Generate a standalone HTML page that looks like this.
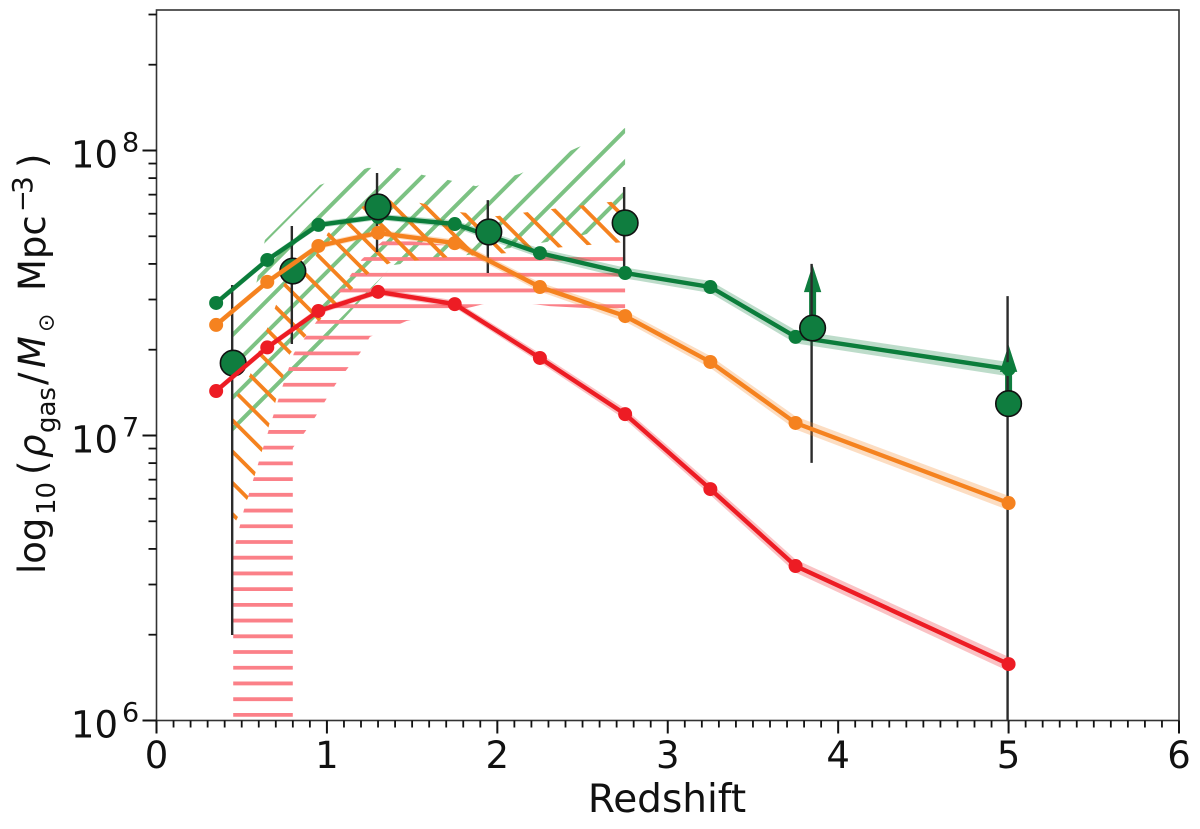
<!DOCTYPE html>
<html lang="en">
<head>
<meta charset="utf-8">
<title>Gas density vs redshift</title>
<style>
html,body{margin:0;padding:0;background:#fff;width:1200px;height:829px;overflow:hidden}
svg{display:block;overflow:hidden}
text{font-family:"DejaVu Sans","Liberation Sans",sans-serif;fill:#111}
</style>
</head>
<body>
<svg id="chart" xmlns="http://www.w3.org/2000/svg" width="1200" height="829" viewBox="0 0 1200 829">
  <defs id="defs"></defs>
  <g id="hatches"></g>
  <g id="arrows"></g>
  <g id="errors"></g>
  <g id="series-green"></g>
  <g id="bigpoints"></g>
  <g id="series-orange"></g>
  <g id="series-red"></g>
  <g id="axes"></g>
  <text x="667" y="812" font-size="39" text-anchor="middle">Redshift</text>
  <g transform="translate(45,574) rotate(-90)" font-size="37">
    <text x="0" y="0">log</text>
    <text x="59" y="10" font-size="26">10</text>
    <text x="99" y="0">(</text>
    <text x="116" y="0" font-style="italic">ρ</text>
    <text x="141" y="10" font-size="26">gas</text>
    <text x="189" y="0">/</text>
    <text x="206" y="0" font-style="italic">M</text>
    <text x="242" y="8.5" font-size="22">⊙</text>
    <text x="283" y="0">Mpc</text>
    <text x="362" y="-14" font-size="26">−</text>
    <text x="380" y="-13" font-size="28">3</text>
    <text x="406" y="0">)</text>
  </g>
</svg>
<script>
// Model redshift bins
const redshifts = [0.35, 0.65, 0.95, 1.3, 1.75, 2.25, 2.75, 3.25, 3.75, 5];
// log10 gas density per series
const greenLog = [7.465, 7.616, 7.739, 7.767, 7.742, 7.640, 7.570, 7.521, 7.346, 7.233];
const orangeLog = [7.388, 7.539, 7.665, 7.711, 7.675, 7.521, 7.419, 7.258, 7.044, 6.763];
const redLog = [7.156, 7.309, 7.437, 7.504, 7.461, 7.272, 7.075, 6.812, 6.542, 6.198];
// Half-width of the shaded band (dex)
const bandHalf = [0.011, 0.011, 0.011, 0.011, 0.013, 0.016, 0.019, 0.021, 0.023, 0.025];
// Observed points
const obsZ = [0.45, 0.8, 1.3, 1.95, 2.75, 3.85, 5];
const obsLog = [7.254, 7.577, 7.802, 7.714, 7.746, 7.377, 7.112];
const obsErrHigh = [7.528, 7.735, 7.921, 7.826, 7.872, 7.602, 7.489];
const obsErrLow = [6.300, 7.321, 7.644, 7.570, 7.570, 6.904, 5.99];
// Lower-limit arrows
const limitZ = [3.85, 5];
const limitFrom = [7.377, 7.112];
const limitTip = [7.598, 7.318];
// Hatched region bounds
const greenUpperZ = [0.45, 0.578, 0.636, 0.959, 1.240, 1.416, 1.563, 1.716, 1.874, 2.132, 2.466, 2.75];
const greenUpperLog = [7.398, 7.511, 7.686, 7.879, 7.939, 7.939, 7.914, 7.896, 7.875, 7.918, 8.009, 8.079];
const greenLowerZ = [0.45, 1.387, 1.604, 1.821, 2.249, 2.466, 2.75];
const greenLowerLog = [6.984, 7.598, 7.616, 7.633, 7.675, 7.696, 7.749];
const orangeUpperZ = [0.45, 0.548, 0.648, 0.748, 0.883, 1.006, 1.123, 1.211, 1.369, 1.545, 1.780, 1.997, 2.326, 2.75];
const orangeUpperLog = [7.118, 7.212, 7.374, 7.532, 7.574, 7.711, 7.746, 7.805, 7.826, 7.816, 7.784, 7.770, 7.795, 7.826];
const orangeLowerZ = [0.45, 0.537, 0.619, 0.701, 0.783, 0.871, 0.959, 1.147, 1.240, 1.369, 1.716, 2.056, 2.384, 2.75];
const orangeLowerLog = [6.682, 6.781, 6.946, 7.125, 7.286, 7.346, 7.405, 7.514, 7.567, 7.605, 7.626, 7.640, 7.661, 7.679];
const redUpperZ = [0.45, 0.513, 0.625, 0.742, 0.806, 0.941, 1.076, 1.205, 1.328, 1.493, 1.950, 2.75];
const redUpperLog = [6.591, 6.739, 6.956, 7.177, 7.289, 7.402, 7.511, 7.619, 7.682, 7.682, 7.651, 7.633];
const redLowerZ = [0.45, 0.8, 0.8, 0.871, 0.935, 0.994, 1.053, 1.123, 1.194, 1.252, 1.469, 1.850, 2.015, 2.308, 2.75];
const redLowerLog = [5.98, 5.98, 6.956, 7.012, 7.068, 7.125, 7.181, 7.237, 7.289, 7.346, 7.402, 7.451, 7.475, 7.454, 7.440];
// Ticks
const xMajorTicks = [0, 1, 2, 3, 4, 5, 6];
const yMajorTicks = [6, 7, 8];
const yMinorMultipliers = [2, 3, 4, 5, 6, 7, 8, 9];

const NS = 'http://www.w3.org/2000/svg';
const plot = {left: 156.5, right: 1179, top: 10, bottom: 720.5};
const xPerUnit = (plot.right - plot.left) / 6;
const yPerDecade = 285;
function X(z) { return plot.left + z * xPerUnit; }
function Y(l) { return plot.bottom - (l - 6) * yPerDecade; }
function make(tag, attrs, parent) {
  const el = document.createElementNS(NS, tag);
  for (const k in attrs) el.setAttribute(k, attrs[k]);
  parent.appendChild(el);
  return el;
}
const defs = document.getElementById('defs');

// plot-area clip
const plotClip = make('clipPath', {id: 'plot-clip'}, defs);
make('rect', {x: plot.left, y: plot.top, width: plot.right - plot.left, height: plot.bottom - plot.top}, plotClip);

function regionPoints(upZ, upL, loZ, loL) {
  const pts = [];
  for (let i = 0; i < upZ.length; i++) pts.push(X(upZ[i]).toFixed(1) + ',' + Y(upL[i]).toFixed(1));
  for (let i = loZ.length - 1; i >= 0; i--) pts.push(X(loZ[i]).toFixed(1) + ',' + Y(loL[i]).toFixed(1));
  return pts.join(' ');
}
function hatchGroup(id, upZ, upL, loZ, loL, color, width) {
  const cp = make('clipPath', {id: id + '-clip'}, defs);
  make('polygon', {points: regionPoints(upZ, upL, loZ, loL)}, cp);
  const outer = make('g', {'clip-path': 'url(#plot-clip)'}, document.getElementById('hatches'));
  const g = make('g', {'clip-path': 'url(#' + id + '-clip)', stroke: color, 'stroke-width': width, fill: 'none'}, outer);
  return g;
}
const hatchTop = 100;
const hatchBottom = 720;
const hatchG = hatchGroup('green-hatch', greenUpperZ, greenUpperLog, greenLowerZ, greenLowerLog, '#7cc283', 4);


for (let k = -6; k < 12; k++) {
  const c = 505 + 31.3 * k;
  make('line', {x1: c - hatchBottom, y1: hatchBottom, x2: c - hatchTop, y2: hatchTop}, hatchG);
}
const hatchR = hatchGroup('red-hatch', redUpperZ, redUpperLog, redLowerZ, redLowerLog, '#fb8088', 3.8);


for (let k = 0; k <= 30; k++) {
  const yy = 243.3 + 15.72 * k;
  make('line', {x1: 200, y1: yy, x2: 700, y2: yy}, hatchR);
}
const hatchO = hatchGroup('orange-hatch', orangeUpperZ, orangeUpperLog, orangeLowerZ, orangeLowerLog, '#f5821f', 3.8);


for (let k = -14; k < 16; k++) {
  const c = 31.3 * k;
  make('line', {x1: hatchTop + c, y1: hatchTop, x2: hatchBottom + c, y2: hatchBottom}, hatchO);
}

// arrows
const arrowsG = document.getElementById('arrows');
limitZ.forEach(function (z, i) {
  const x = X(z), from = Y(limitFrom[i]), tip = Y(limitTip[i]);
  const shaft = make('line', {x1: x, y1: from, x2: x, y2: tip + 22, stroke: '#0f7d3f', 'stroke-width': 7}, arrowsG);
  
  
  const head = make('polygon', {points: (x) + ',' + tip + ' ' + (x - 8.7) + ',' + (tip + 27) + ' ' + (x + 8.7) + ',' + (tip + 27), fill: '#0f7d3f'}, arrowsG);
  
  
});

// error bars
const errorsG = document.getElementById('errors');
obsZ.forEach(function (z, i) {
  const bar = make('line', {x1: X(z) - 1, y1: Y(obsErrHigh[i]), x2: X(z) - 1, y2: Math.min(Y(obsErrLow[i]), plot.bottom), stroke: '#2b2b2b', 'stroke-width': 2.4}, errorsG);
  
  
});

// model series
function drawSeries(groupId, values, color, markerName) {
  const g = document.getElementById(groupId);
  const top = [], bottom = [], mid = [];
  redshifts.forEach(function (z, i) {
    top.push(X(z).toFixed(1) + ',' + Y(values[i] + bandHalf[i]).toFixed(1));
    bottom.unshift(X(z).toFixed(1) + ',' + Y(values[i] - bandHalf[i]).toFixed(1));
    mid.push(X(z).toFixed(1) + ',' + Y(values[i]).toFixed(1));
  });
  const band = make('polygon', {points: top.concat(bottom).join(' '), fill: color, 'fill-opacity': 0.27}, g);
  
  
  const line = make('polyline', {points: mid.join(' '), fill: 'none', stroke: color, 'stroke-width': 4.4, 'stroke-linejoin': 'round'}, g);
  
  
  redshifts.forEach(function (z, i) {
    const dot = make('circle', {cx: X(z), cy: Y(values[i]), r: 7, fill: color}, g);
    
    
  });
}
drawSeries('series-green', greenLog, '#0b7d3b', 'green-point');
drawSeries('series-orange', orangeLog, '#f5821f', 'orange-point');
drawSeries('series-red', redLog, '#ed1c24', 'red-point');

// observed big points
const bigG = document.getElementById('bigpoints');
obsZ.forEach(function (z, i) {
  const c = make('circle', {cx: X(z), cy: Y(obsLog[i]), r: 12.8, fill: '#0f7d3f', stroke: '#111', 'stroke-width': 1.6}, bigG);
  
  
});

// axes
const axes = document.getElementById('axes');
const frame = make('rect', {x: plot.left, y: plot.top, width: plot.right - plot.left, height: plot.bottom - plot.top, fill: 'none', stroke: '#333', 'stroke-width': 1.6}, axes);



xMajorTicks.forEach(function (v) {
  const t = make('line', {x1: X(v), y1: plot.bottom, x2: X(v), y2: plot.bottom + 13, stroke: '#111', 'stroke-width': 2}, axes);
  
  
  const label = make('text', {x: X(v), y: 768, 'font-size': 37, 'text-anchor': 'middle'}, axes);
  label.textContent = String(v);
  
  
  if (v < 6) {
    for (let m = 1; m < 10; m++) {
      const mt = make('line', {x1: X(v + m / 10), y1: plot.bottom, x2: X(v + m / 10), y2: plot.bottom + 7, stroke: '#111', 'stroke-width': 1.8}, axes);
      
      
    }
  }
});

yMajorTicks.forEach(function (v) {
  const t = make('line', {x1: plot.left - 14, y1: Y(v), x2: plot.left, y2: Y(v), stroke: '#111', 'stroke-width': 2}, axes);
  
  
  const label = make('text', {x: 118, y: Y(v) + 17, 'font-size': 37, 'text-anchor': 'end'}, axes);
  label.textContent = '10';
  
  
  const sup = make('text', {x: 122, y: Y(v) + 1, 'font-size': 27}, axes);
  sup.textContent = String(v);
  
  
  yMinorMultipliers.forEach(function (m) {
    const l = v + Math.log10(m);
    if (Y(l) < plot.top) return;
    const mt = make('line', {x1: plot.left - 8, y1: Y(l), x2: plot.left, y2: Y(l), stroke: '#111', 'stroke-width': 1.8}, axes);
    
    
  });
});
</script>
</body>
</html>
